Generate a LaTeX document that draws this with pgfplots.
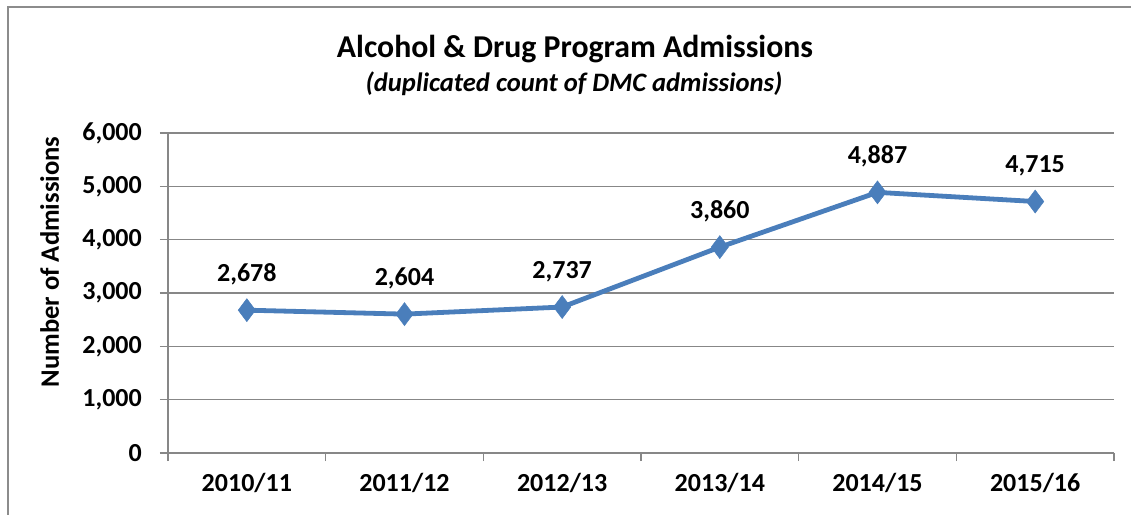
\documentclass[border=0pt]{standalone}
\usepackage{pgfplots}
\pgfplotsset{compat=1.18}
\usepackage{fontspec}
\setmainfont{Carlito}
\definecolor{gridgray}{HTML}{878787}
\definecolor{framegray}{HTML}{8C8C8C}
\definecolor{lineblue}{HTML}{4A7EBB}
\begin{document}
\begin{tikzpicture}
\begin{axis}[
  scale only axis,
  width=946bp, height=320bp,
  xmin=0, xmax=6, ymin=0, ymax=6000,
  axis lines=left,
  axis line style={-, draw=gridgray, line width=1.6bp},
  ymajorgrids,
  grid style={draw=gridgray, line width=1.6bp},
  ytick={0,1000,2000,3000,4000,5000,6000},
  yticklabels={0,{1,000},{2,000},{3,000},{4,000},{5,000},{6,000}},
  xtick={0.5,1.5,2.5,3.5,4.5,5.5},
  xticklabels={2010/11,2011/12,2012/13,2013/14,2014/15,2015/16},
  minor xtick={0,1,2,3,4,5,6},
  tick align=outside,
  major tick length=8bp,
  minor tick length=8bp,
  major x tick style={draw=none},
  minor x tick style={draw=gridgray, line width=1.6bp},
  major y tick style={draw=gridgray, line width=1.6bp},
  tick label style={font=\fontsize{26bp}{30bp}\selectfont\bfseries},
  yticklabel style={anchor=east, inner sep=0pt, xshift=-18bp},
  xticklabel style={anchor=base, inner sep=0pt, yshift=-30bp},
  clip=false,
]
\addplot[color=lineblue, line width=4.8bp, mark=diamond*, mark size=11.5bp,
  mark options={fill=lineblue, draw=lineblue, line width=0.5bp},
  nodes near coords, point meta=explicit symbolic,
  every node near coord/.append style={font=\fontsize{26bp}{30bp}\selectfont\bfseries, anchor=base, inner sep=0pt, yshift=29bp, text=black}]
coordinates {
  (0.5,2678) [2,678]
  (1.5,2604) [2,604]
  (2.5,2737) [2,737]
  (3.5,3860) [3,860]
  (4.5,4887) [4,887]
  (5.5,4715) [4,715]
};
\end{axis}
\path[use as bounding box] (-168bp,-62bp) rectangle (963bp,453bp);
\draw[framegray, line width=2bp] (-160bp,-70bp) -- (-160bp,446bp) -- (970bp,446bp);
\node[anchor=base, inner sep=0pt, font=\fontsize{31.8bp}{36bp}\selectfont\bfseries] at (407bp,395bp) {Alcohol \& Drug Program Admissions};
\node[anchor=base, inner sep=0pt, font=\fontsize{26.6bp}{30bp}\selectfont\bfseries\itshape] at (406bp,361bp) {(duplicated count of DMC admissions)};
\node[rotate=90, anchor=base, inner sep=0pt, font=\fontsize{26.6bp}{30bp}\selectfont\bfseries] at (-109bp,191bp) {Number of Admissions};
\end{tikzpicture}
\end{document}
